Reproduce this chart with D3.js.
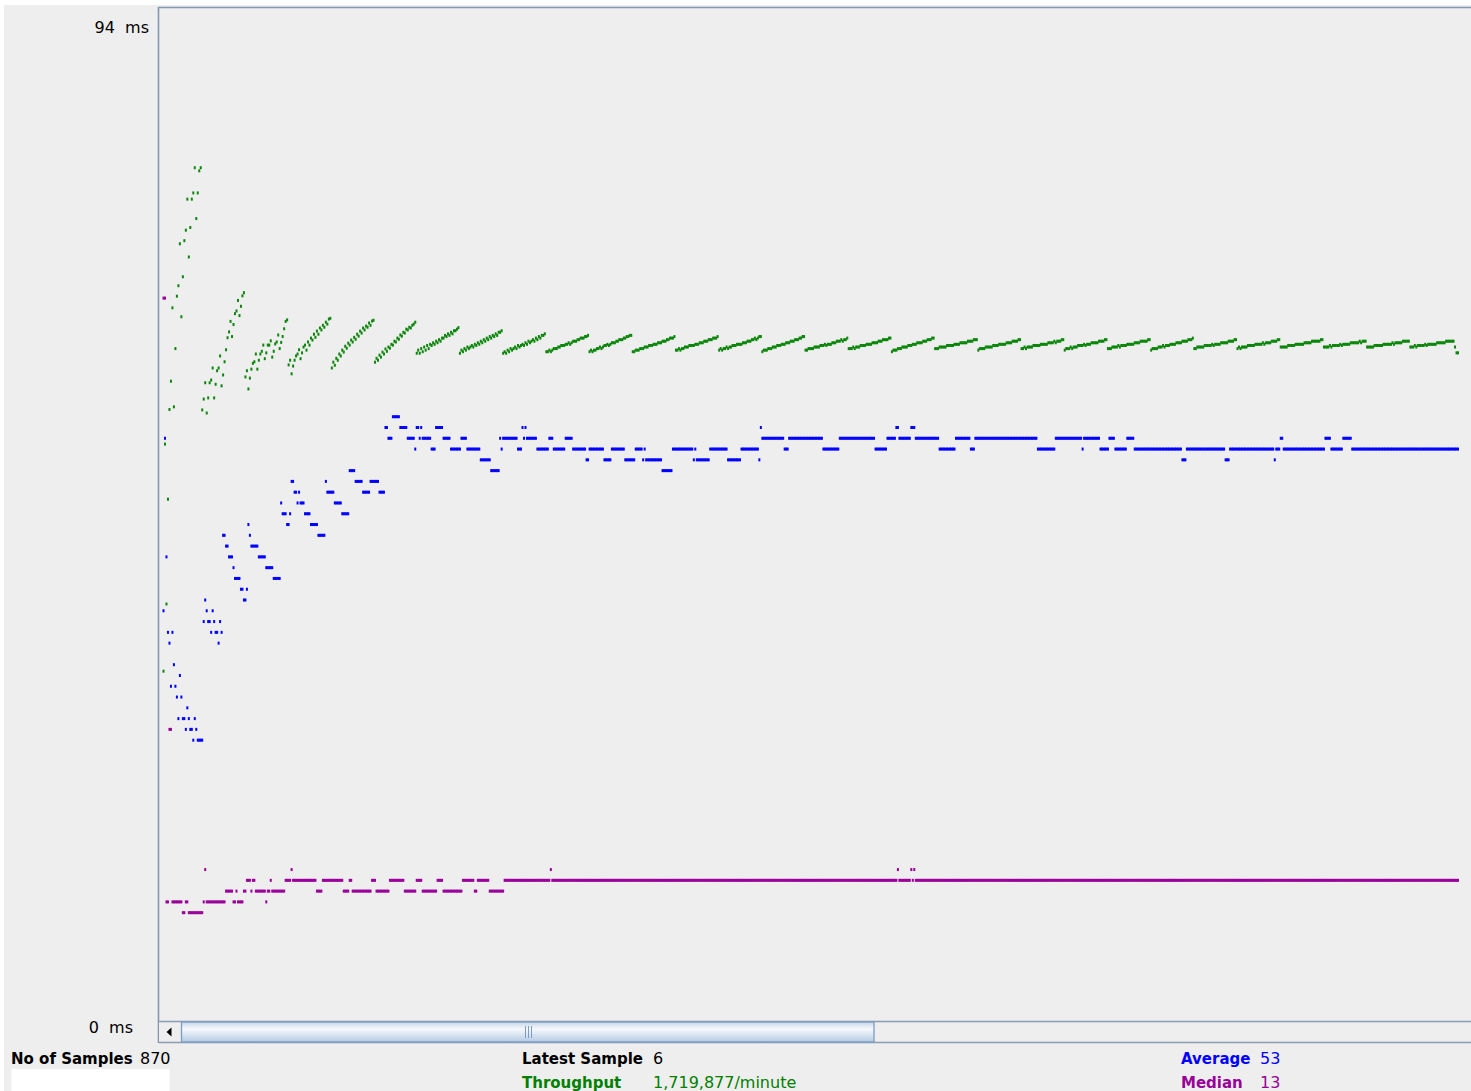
<!DOCTYPE html>
<html>
<head>
<meta charset="utf-8">
<script src="https://cdn.jsdelivr.net/npm/d3@7"></script>
<style>
  html, body { margin: 0; padding: 0; background: #ffffff; }
  svg { display: block; }
  text { font-family: "DejaVu Sans", "Liberation Sans", sans-serif; }
</style>
</head>
<body>
<svg id="chart" width="1471" height="1091"></svg>
<script>
// ---- Graph Results data ----
const sampleCount = 870;
const msMax = 94;                 // top of the response-time axis (ms)
const throughputMaxK = 2611;      // throughput (thousands/minute) at the top edge
const yTickLabels = ["94  ms", "0  ms"];

// Running average (ms), run-length encoded as [value, samples]
const averageRuns = [
  [38,1],[54,1],[43,1],[36,1],[35,1],[31,1],[36,1],[33,1],[31,1],[30,1],[28,1],[32,1],[30,1],
  [28,2],[27,1],[29,1],[28,1],[27,2],[26,1],[28,1],[27,1],[26,4],[37,1],[39,1],[38,1],[37,2],
  [36,1],[38,1],[37,1],[36,2],[35,1],[37,1],[36,1],[45,2],[44,2],[43,3],[42,1],[41,4],[40,2],
  [39,2],[40,1],[46,1],[45,1],[44,5],[43,5],[42,5],[41,5],
  [48,1],[47,3],[46,2],[47,1],[50,2],[49,2],[48,1],[49,1],[48,3],[47,4],[46,5],[45,5],[50,1],
  [49,5],[48,5],[47,5],[51,4],[50,5],[49,5],[50,6],[49,4],
  [55,2],[54,3],[56,5],[55,5],[54,5],[53,1],[55,2],[54,1],[55,1],[54,6],[53,3],[55,5],[54,5],
  [53,7],[54,4],[53,9],[52,7],[51,6],[54,1],[53,1],[54,10],[53,3],[55,1],[54,1],[55,1],[54,7],
  [53,8],[54,3],[53,8],[54,5],[53,9],[52,2],[53,10],[52,5],[53,9],[52,7],[53,5],[52,1],[53,1],
  [52,11],[51,7],[53,14],[52,1],[53,1],[52,9],[53,12],[52,9],[53,12],[52,1],[55,1],[54,15],
  [53,3],[54,23],[53,11],[54,24],[53,8],[54,6],[55,2],[54,8],[55,3],[54,16],[53,11],
  [54,10],[53,3],[54,42],[53,12],[54,18],[53,1],[54,11],[53,6],[54,4],[53,8],[54,5],[53,32],
  [52,3],[53,26],[52,3],[53,30],[52,1],[53,3],[54,2],[53,28],[54,4],[53,8],[54,6],[53,72]
];

// Running median (ms), run-length encoded as [value, samples]
const medianRuns = [
  [67,2],[11,2],[27,2],[11,7],[10,2],[11,2],[10,10],[11,1],[14,1],[11,13],[12,5],[11,2],[12,1],
  [11,4],[12,2],[13,3],[12,1],[13,2],[12,7],[11,1],[12,2],[13,1],[12,9],[13,4],[14,1],[13,16],
  [12,4],[13,14],[12,4],[13,2],[12,13],[13,3],[12,9],[13,10],[12,8],[13,4],[12,10],[13,4],
  [12,13],[13,8],[12,2],[13,8],[12,10],[13,31],[14,1],[13,232],[14,1],[13,8],[14,1],[13,1],
  [14,1],[13,365]
];

// Throughput per sample (thousands of samples per minute)
const throughputK = [
  900,1485,1073,1343,1574,1647,1836,1581,1731,1866,1893,2001,1813,1916,2009,2036,2116,1967,2043,2116,2132,2197,2066,2132,2189,2197,
  1573,1601,1643,1565,1604,1643,1650,1681,1604,1639,1674,1681,1712,1635,1663,1697,1728,1759,1774,1801,1762,1793,1821,1828,1855,1816,1840,1867,1875,
  1658,1674,1627,1655,1678,1693,1697,1717,1678,1701,1717,1724,1740,1705,1720,1740,1740,1751,1709,1724,1743,1748,1766,1731,1747,1762,1782,1801,1805,
  1689,1701,1666,1686,1701,1712,1717,1728,1705,1720,1735,1740,1727,1748,1740,1758,1753,1768,1760,1776,1768,1784,1779,1791,1786,1799,1794,1807,1809,
  1681,1696,1688,1706,1701,1717,1712,1727,1722,1737,1732,1745,1740,1753,1748,1760,1755,1768,1763,1776,1771,1784,1779,1789,1786,1797,1791,1802,1804,
  1696,1706,1701,1714,1709,1722,1717,1730,1724,1735,1732,1742,1740,1750,1748,1758,1755,1766,1763,1773,1771,1781,1779,1786,1784,1791,1794,1799,
  1719,1727,1719,1731,1723,1735,1727,1739,1731,1742,1739,1746,1742,1750,1746,1754,1750,1758,1758,1765,1762,1769,1765,1773,1769,1777,1777,1781,1785,
  1719,1727,1723,1731,1727,1735,1731,1735,1739,1735,1742,1739,1746,1742,1750,1746,1754,1750,1758,1754,1762,1758,1765,1762,1769,1765,1773,1773,1777,
  1719,1723,1719,1727,1723,1731,1727,1731,1735,1731,1739,1735,1739,1742,1739,1746,1742,1750,1746,1750,1754,1750,1758,1754,1762,1758,1765,1765,1769,
  1723,1723,1727,1723,1727,1731,1731,1731,1735,1735,1739,1739,1739,1742,1742,1746,1742,1746,1750,1750,1750,1754,1754,1758,1758,1758,1762,1762,1765,
  1723,1727,1723,1727,1727,1731,1731,1735,1731,1735,1739,1739,1742,1739,1742,1746,1746,1746,1750,1750,1754,1754,1754,1758,1758,1762,1762,1765,1765,
  1723,1723,1727,1727,1727,1731,1731,1731,1735,1735,1735,1739,1739,1739,1742,1742,1742,1746,1746,1746,1750,1750,1750,1754,1754,1758,1758,1758,1762,
  1727,1727,1731,1727,1731,1731,1735,1735,1735,1739,1739,1739,1739,1742,1742,1742,1746,1746,1746,1750,1750,1750,1754,1754,1754,1758,1758,1758,1762,
  1727,1731,1727,1731,1731,1735,1731,1735,1735,1739,1739,1739,1742,1742,1742,1742,1746,1746,1746,1750,1750,1750,1754,1754,1758,1754,1758,1762,1762,
  1723,1727,1727,1727,1731,1731,1731,1735,1735,1735,1739,1739,1739,1742,1742,1742,1746,1746,1746,1750,1750,1750,1754,1754,1754,1758,1758,1762,1762,
  1727,1727,1731,1731,1731,1731,1735,1735,1735,1735,1739,1739,1739,1742,1739,1742,1742,1742,1746,1746,1746,1750,1750,1750,1754,1750,1754,1754,1758,
  1731,1731,1731,1735,1731,1735,1735,1735,1739,1739,1739,1739,1742,1742,1742,1742,1746,1746,1746,1746,1750,1750,1750,1754,1754,1754,1754,1758,1758,
  1723,1727,1727,1727,1731,1731,1731,1735,1735,1735,1735,1739,1739,1739,1742,1742,1742,1746,1746,1746,1746,1750,1750,1750,1754,1754,1754,1758,1758,
  1731,1731,1731,1735,1735,1735,1735,1735,1739,1739,1739,1739,1739,1742,1742,1742,1742,1746,1746,1746,1746,1746,1750,1750,1750,1750,1754,1754,1754,
  1727,1731,1731,1731,1731,1735,1735,1735,1735,1735,1739,1739,1739,1739,1742,1742,1742,1742,1742,1746,1746,1746,1746,1750,1750,1750,1750,1754,1754,
  1731,1731,1735,1731,1735,1735,1735,1735,1739,1739,1739,1739,1739,1742,1742,1742,1742,1742,1746,1746,1746,1746,1750,1746,1750,1750,1750,1754,1754,
  1727,1731,1731,1731,1735,1731,1735,1735,1735,1739,1739,1739,1739,1742,1739,1742,1742,1742,1746,1746,1746,1746,1746,1750,1750,1750,1750,1754,1754,
  1731,1731,1731,1735,1735,1735,1735,1739,1735,1739,1739,1739,1739,1742,1742,1742,1742,1742,1746,1746,1746,1746,1750,1750,1750,1750,1750,1754,1754,
  1727,1731,1731,1731,1731,1735,1735,1735,1739,1735,1739,1739,1739,1742,1742,1742,1742,1746,1746,1746,1746,1750,1750,1750,1750,1754,1754,1754,1758,
  1731,1731,1735,1735,1735,1735,1735,1739,1739,1739,1739,1739,1742,1739,1742,1742,1742,1742,1746,1746,1746,1746,1746,1750,1750,1750,1750,1754,1754,
  1731,1735,1731,1735,1735,1735,1735,1739,1739,1739,1739,1739,1742,1742,1742,1742,1742,1746,1742,1746,1746,1746,1746,1750,1750,1750,1750,1754,1754,
  1735,1735,1735,1735,1735,1739,1739,1739,1739,1739,1742,1742,1742,1742,1742,1742,1746,1746,1746,1746,1746,1750,1750,1750,1750,1750,1750,1754,1754,
  1735,1735,1735,1735,1739,1735,1739,1739,1739,1739,1739,1742,1739,1742,1742,1742,1742,1742,1746,1746,1746,1746,1746,1746,1750,1746,1750,1750,1750,
  1735,1735,1735,1735,1735,1739,1739,1739,1739,1739,1739,1742,1742,1742,1742,1742,1742,1746,1742,1746,1746,1746,1746,1746,1750,1750,1750,1750,1750,
  1735,1735,1735,1739,1735,1739,1739,1739,1739,1739,1742,1739,1742,1742,1742,1742,1742,1742,1746,1746,1746,1746,1746,1746,1750,1750,1750,1750,1750,1750,
  1735,1720,1720
];

// Summary fields under the graph
const summaryLeft   = [{ label: "No of Samples", value: "870", color: "#000000" }];
const summaryMiddle = [
  { label: "Latest Sample", value: "6", color: "#000000" },
  { label: "Throughput", value: "1,719,877/minute", color: "#008000" }
];
const summaryRight  = [
  { label: "Average", value: "53", color: "#0000ff" },
  { label: "Median", value: "13", color: "#990099" }
];

// ---- helpers ----
function expandRuns(runs) {
  const out = [];
  runs.forEach(([v, n]) => { for (let k = 0; k < n; k++) out.push(v); });
  return out;
}

const averageValues = expandRuns(averageRuns);
const medianValues = expandRuns(medianRuns);

// ---- layout ----
const W = 1471, H = 1091;
const plot = { left: 158, top: 7, right: 1471, bottom: 1021 };
const svg = d3.select("#chart");

svg.append("rect").attr("x", 0).attr("y", 0).attr("width", W).attr("height", H).attr("fill", "#ffffff");
svg.append("rect").attr("x", 4).attr("y", 5).attr("width", W - 4).attr("height", H - 5).attr("fill", "#eeeeee");

const x = d3.scaleLinear().domain([0, sampleCount - 1]).range([163.5, 1458]);
const y = d3.scaleLinear().domain([0, msMax]).range([plot.bottom - 0.5, plot.top]);
const yThroughput = d3.scaleLinear().domain([0, throughputMaxK]).range([plot.bottom - 0.5, plot.top]);

// plot frame
svg.append("line").attr("x1", plot.left + 0.5).attr("x2", plot.left + 0.5)
  .attr("y1", plot.top).attr("y2", 1043).attr("stroke", "#8397ae").attr("stroke-width", 1.6);
svg.append("line").attr("x1", plot.left).attr("x2", plot.right)
  .attr("y1", plot.top + 0.5).attr("y2", plot.top + 0.5).attr("stroke", "#8397ae").attr("stroke-width", 1.6);

// y labels
svg.append("text").attr("x", 149).attr("y", y(msMax) + 26).attr("text-anchor", "end")
  .attr("font-size", 16).attr("fill", "#000").style("white-space", "pre").text(yTickLabels[0]);
svg.append("text").attr("x", 133).attr("y", y(0) + 12.5).attr("text-anchor", "end")
  .attr("font-size", 16).attr("fill", "#000").style("white-space", "pre").text(yTickLabels[1]);

// series points
function drawSeries(values, scale, color) {
  svg.append("g").selectAll("rect").data(values).join("rect")
    .attr("x", (d, i) => x(i) - 1)
    .attr("y", d => scale(d) - 1.5)
    .attr("width", 2)
    .attr("height", 3)
    .attr("fill", color);
}
drawSeries(throughputK, yThroughput, "#0b860b");
drawSeries(averageValues, y, "#0000ff");
drawSeries(medianValues, y, "#990099");

// ---- horizontal scrollbar ----
const sb = { x: 159, y: 1021, w: W - 159, h: 22 };
const defs = svg.append("defs");
const grad = defs.append("linearGradient").attr("id", "thumbGrad").attr("x1", 0).attr("y1", 0).attr("x2", 0).attr("y2", 1);
grad.append("stop").attr("offset", "0%").attr("stop-color", "#c6d6e8");
grad.append("stop").attr("offset", "35%").attr("stop-color", "#f6f9fc");
grad.append("stop").attr("offset", "100%").attr("stop-color", "#b4cae2");

svg.append("rect").attr("x", sb.x).attr("y", sb.y).attr("width", sb.w).attr("height", sb.h).attr("fill", "#eeeeee");
svg.append("line").attr("x1", sb.x).attr("x2", W).attr("y1", sb.y + 0.5).attr("y2", sb.y + 0.5).attr("stroke", "#8a9db3").attr("stroke-width", 1.5);
svg.append("line").attr("x1", sb.x).attr("x2", W).attr("y1", sb.y + sb.h - 0.5).attr("y2", sb.y + sb.h - 0.5).attr("stroke", "#8a9db3").attr("stroke-width", 1.5);
svg.append("path").attr("d", "M171.5,1027.5 L166.5,1032 L171.5,1036.5 Z").attr("fill", "#000");
svg.append("rect").attr("x", 181.5).attr("y", sb.y + 1).attr("width", 692.5).attr("height", sb.h - 2)
  .attr("fill", "url(#thumbGrad)").attr("stroke", "#7b9cc4").attr("stroke-width", 1.3);
[525.5, 528.5, 531.5].forEach(gx => {
  svg.append("line").attr("x1", gx).attr("x2", gx).attr("y1", 1026).attr("y2", 1038)
    .attr("stroke", "#7b9cc4").attr("stroke-width", 1);
});

// ---- summary fields ----
function drawSummary(items, lx, vx, y0) {
  items.forEach((d, k) => {
    const yy = y0 + k * 24;
    svg.append("text").attr("x", lx).attr("y", yy).attr("font-size", 15).attr("font-weight", "bold")
      .attr("fill", d.color).text(d.label);
    svg.append("text").attr("x", vx).attr("y", yy).attr("font-size", 16)
      .attr("fill", d.color).text(d.value);
  });
}
drawSummary(summaryLeft, 11, 140, 1064);
drawSummary(summaryMiddle, 522, 653, 1064);
drawSummary(summaryRight, 1181, 1260, 1064);

// empty text field below the sample count
svg.append("rect").attr("x", 11.5).attr("y", 1069).attr("width", 158).attr("height", 22).attr("fill", "#ffffff");
</script>
</body>
</html>
